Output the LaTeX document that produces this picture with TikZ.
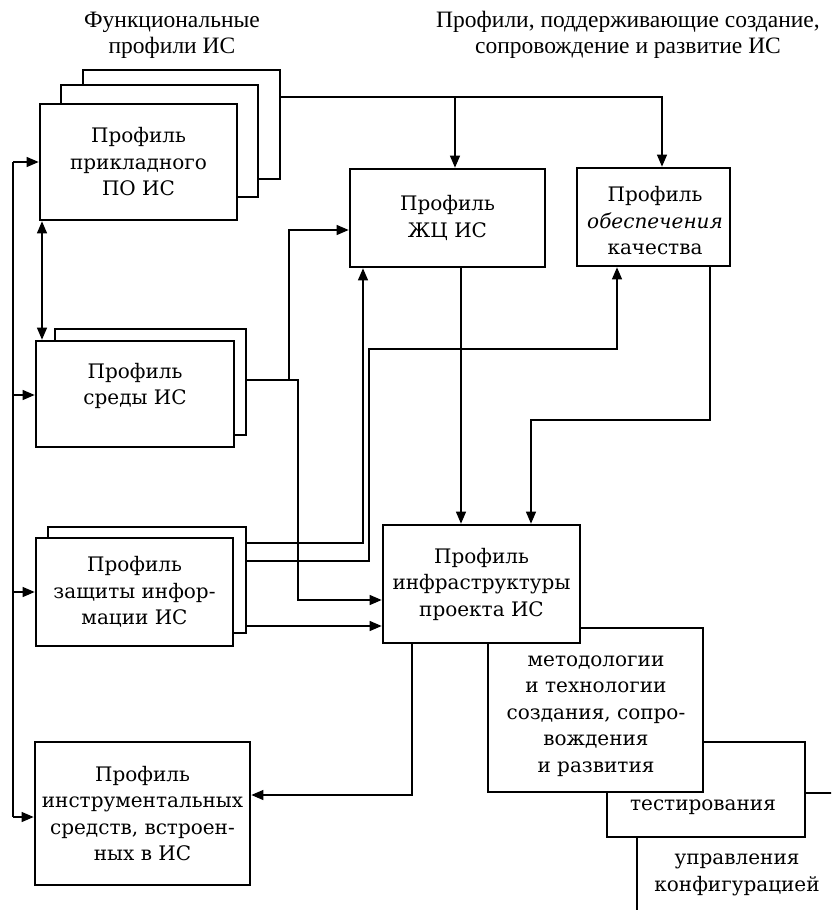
\documentclass[tikz,border=0pt]{standalone}
\usepackage{fontspec}
\setmainfont{DejaVu Serif}
\newfontfamily\titlefont{Liberation Serif}
\usetikzlibrary{arrows.meta,calc}
\begin{document}
\begin{tikzpicture}[x=1pt,y=-1pt,
  box/.style={draw,line width=2.7pt,fill=white,inner sep=0pt,align=center,
    font=\fontsize{20}{26.5}\selectfont},
  lbl/.style={align=center,inner sep=0pt,font=\fontsize{20}{26.5}\selectfont},
  ttl/.style={align=center,inner sep=0pt,font=\titlefont\fontsize{23.5}{26}\selectfont},
  conn/.style={line width=1.2pt},
  arr/.style={conn,-{Triangle[length=12pt,width=10pt]}},
  darr/.style={conn,{Triangle[length=12pt,width=10pt]}-{Triangle[length=12pt,width=10pt]}}]
\useasboundingbox (0,0) rectangle (831,910);
\clip (0,0) rectangle (831,910);

% titles
\node[ttl] (t1) at (172,35) {Функциональные\\профили ИС};
\node[ttl] (t2) at (628,35) {Профили, поддерживающие создание,\\сопровождение и развитие ИС};

% functional profiles (stacked)
\node[box,minimum width=197,minimum height=109] (b1back) at (181.5,124.5) {};
\node[box,minimum width=197,minimum height=112] (b1mid) at (159.5,141) {};
\node[box,minimum width=197,minimum height=116] (b1) at (138.5,162) {Профиль\\прикладного\\ПО ИС};

\node[box,minimum width=191,minimum height=106] (b2back) at (150.5,382) {};
\node[box,minimum width=198,minimum height=106] (b2) at (135,394) {};
\node[lbl] (b2t) at (135,386) {Профиль\\среды ИС};

\node[box,minimum width=198,minimum height=106] (b3back) at (147,580) {};
\node[box,minimum width=197,minimum height=108] (b3) at (134.5,592) {Профиль\\защиты инфор-\\мации ИС};

\node[box,minimum width=215,minimum height=143] (tools) at (142.5,813.5) {Профиль\\инструментальных\\средств, встроен-\\ных в ИС};

% supporting profiles
\node[box,minimum width=195,minimum height=98] (j) at (447.5,218) {Профиль\\ЖЦ ИС};
\node[box,minimum width=153,minimum height=98] (q) at (653.5,217) {};
\node[lbl] (qt) at (655,221) {Профиль\\\textit{обеспечения}\\качества};

% infrastructure stack
\node[box,minimum width=298,minimum height=197] (mg) at (786,891.5) {};
\node[lbl] (mgt) at (737,875) {управления\\конфигурацией};
\node[box,minimum width=198,minimum height=95] (ts) at (706,789.5) {};
\node[lbl] (tst) at (703,807) {тестирования};
\node[box,minimum width=215,minimum height=164] (mt) at (595.5,710) {};
\node[lbl] (mtt) at (596,716) {методологии\\и технологии\\создания, сопро-\\вождения\\и развития};
\node[box,minimum width=197,minimum height=118] (inf) at (481.5,584) {Профиль\\инфраструктуры\\проекта ИС};

% connectors from functional profile of applied software
\coordinate (br1) at (455,97);
\draw[arr] (b1back.east |- br1) -| (q.north -| 662,0);
\draw[arr] (br1) -- (j.north -| br1);

% from environment profile
\coordinate (s2) at (298,380);
\coordinate (s2b) at (289,380);
\draw[arr] (b2back.east |- s2) -- (s2) |- (inf.west |- 0,600);
\draw[arr] (s2b) |- (j.west |- 0,230);

% from information security profile
\coordinate (k) at (369,349);
\draw[arr] (b3back.east |- 0,543) -| (j.south -| 363,0);
\draw[arr] (b3back.east |- 0,561) -| (k) -| (q.south -| 617,0);
\draw[arr] (b3back.east |- 0,626) -- (inf.west |- 0,626);

% into infrastructure
\draw[arr] (j.south -| 461,0) -- (inf.north -| 461,0);
\coordinate (m) at (710,420);
\draw[arr] (q.south -| m) -- (m) -| (inf.north -| 531,0);

% infrastructure to tools
\draw[arr] (inf.south -| 412,0) |- (tools.east |- 0,795);

% left bus
\coordinate (bt) at (13,162);
\coordinate (bb) at (13,817);
\draw[conn] (bt) -- (bb);
\draw[arr] (bt) -- (b1.west |- bt);
\draw[arr] (bt |- 0,395) -- (b2.west |- 0,395);
\draw[arr] (bt |- 0,592) -- (b3.west |- 0,592);
\draw[arr] (bb) -- (tools.west |- bb);

% between applied software and environment
\draw[darr] (b1.south -| 42,0) -- (b2.north -| 42,0);
\end{tikzpicture}
\end{document}
